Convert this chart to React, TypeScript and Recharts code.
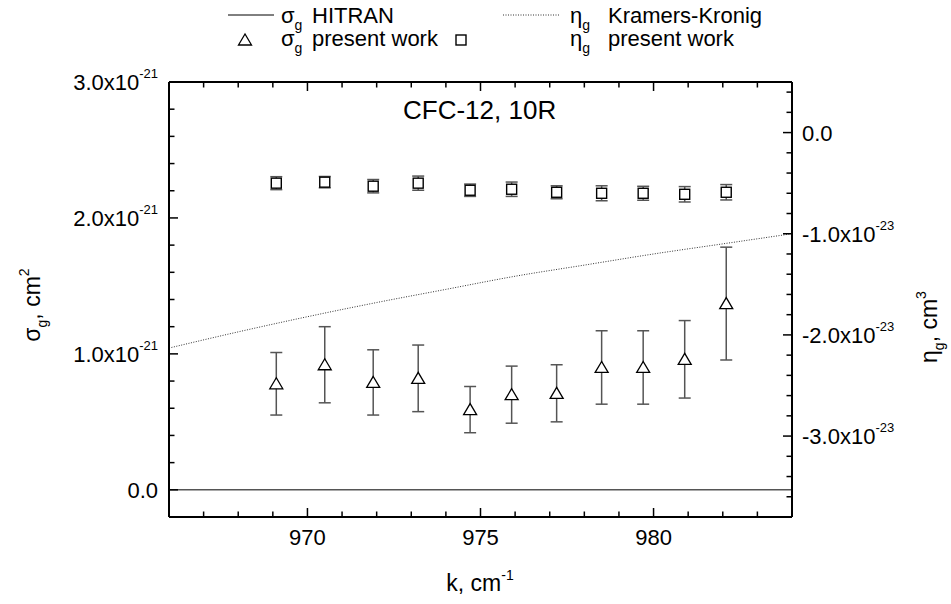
import React from "react";
import { ComposedChart, Line, Scatter, ErrorBar, XAxis, YAxis } from "recharts";

const FONT = "'Liberation Sans', Arial, Helvetica, sans-serif";

// wavenumber of the measured points, cm-1
const kPoints = [969.1, 970.5, 971.9, 973.2, 974.7, 975.9, 977.2, 978.5, 979.7, 980.9, 982.1];
// sigma_g present work, units of 1e-21 cm2
const sigmaValues = [0.78, 0.92, 0.79, 0.82, 0.59, 0.7, 0.71, 0.9, 0.9, 0.96, 1.37];
const sigmaErrors = [0.23, 0.28, 0.24, 0.245, 0.17, 0.21, 0.21, 0.27, 0.27, 0.285, 0.415];
// eta_g present work, units of 1e-23 cm3
const etaValues = [-0.5, -0.49, -0.53, -0.5, -0.57, -0.56, -0.59, -0.6, -0.6, -0.61, -0.59];
const etaErrors = [0.064, 0.056, 0.066, 0.07, 0.061, 0.071, 0.064, 0.074, 0.069, 0.076, 0.076];

// eta_g Kramers-Kronig curve (1e-23 cm3)
const kkK = [966, 968, 970, 972, 974, 976, 978, 980, 982, 984];
const kkEta = [-2.13, -1.97, -1.82, -1.68, -1.55, -1.42, -1.31, -1.2, -1.1, -1.0];

// sigma_g HITRAN (1e-21 cm2)
const hitranK = [966, 984];
const hitranSigma = [0, 0];

const xTicks = [966, 967, 968, 969, 970, 971, 972, 973, 974, 975, 976, 977, 978, 979, 980, 981, 982, 983, 984];
const xLabels = [970, 975, 980];
const leftTicks = [-0.2, 0, 0.2, 0.4, 0.6, 0.8, 1, 1.2, 1.4, 1.6, 1.8, 2, 2.2, 2.4, 2.6, 2.8, 3];
const leftLabels = [0, 1, 2, 3];
const rightTicks = [-3.8, -3.6, -3.4, -3.2, -3, -2.8, -2.6, -2.4, -2.2, -2, -1.8, -1.6, -1.4, -1.2, -1, -0.8, -0.6, -0.4, -0.2, 0, 0.2, 0.4];
const rightLabels = [-3, -2, -1, 0];

const sigmaData = kPoints.map((k, i) => ({ k, y: sigmaValues[i], err: sigmaErrors[i] }));
const etaData = kPoints.map((k, i) => ({ k, y: etaValues[i], err: etaErrors[i] }));
const kkData = kkK.map((k, i) => ({ k, eta: kkEta[i] }));
const hitranData = hitranK.map((k, i) => ({ k, sigma: hitranSigma[i] }));

const BottomTick = (props: any) => {
  const { x, y, payload } = props;
  const major = xLabels.includes(payload.value);
  return (
    <g>
      <line x1={x} x2={x} y1={y} y2={y - (major ? 9 : 5.5)} stroke="#000" strokeWidth={1.5} />
      {major && (
        <text x={x} y={y + 28} textAnchor="middle" fontSize={22} fontFamily={FONT} fill="#000">
          {payload.value}
        </text>
      )}
    </g>
  );
};

const TopTick = (props: any) => {
  const { x, y, payload } = props;
  const major = xLabels.includes(payload.value);
  return <line x1={x} x2={x} y1={y} y2={y + (major ? 9 : 5.5)} stroke="#000" strokeWidth={1.5} />;
};

const LeftTick = (props: any) => {
  const { x, y, payload } = props;
  const v = payload.value;
  const major = leftLabels.includes(v);
  return (
    <g>
      <line x1={x} x2={x + (major ? 9 : 5.5)} y1={y} y2={y} stroke="#000" strokeWidth={1.5} />
      {major && (
        <text x={x - 11} y={y + 8} textAnchor="end" fontSize={22} fontFamily={FONT} fill="#000">
          {v === 0 ? "0.0" : `${v.toFixed(1)}x10`}
          {v !== 0 && (
            <tspan dy={-12} fontSize={13}>
              -21
            </tspan>
          )}
        </text>
      )}
    </g>
  );
};

const RightTick = (props: any) => {
  const { x, y, payload } = props;
  const v = payload.value;
  const major = rightLabels.includes(v);
  return (
    <g>
      <line x1={x} x2={x - (major ? 9 : 5.5)} y1={y} y2={y} stroke="#000" strokeWidth={1.5} />
      {major && (
        <text x={x + 10} y={y + 8} textAnchor="start" fontSize={22} fontFamily={FONT} fill="#000">
          {v === 0 ? "0.0" : `${v.toFixed(1)}x10`}
          {v !== 0 && (
            <tspan dy={-12} fontSize={13}>
              -23
            </tspan>
          )}
        </text>
      )}
    </g>
  );
};

const Triangle = (props: any) => {
  const { cx, cy } = props;
  if (cx == null || cy == null) return null;
  return (
    <polygon
      points={`${cx},${cy - 6} ${cx - 6.5},${cy + 5} ${cx + 6.5},${cy + 5}`}
      fill="#fff"
      stroke="#000"
      strokeWidth={1.3}
    />
  );
};

const Square = (props: any) => {
  const { cx, cy } = props;
  if (cx == null || cy == null) return null;
  return <rect x={cx - 5} y={cy - 5} width={10} height={10} fill="#fff" stroke="#000" strokeWidth={1.4} />;
};

const Overlay = () => (
  <g fontFamily={FONT} fill="#000">
    {/* legend */}
    <line x1={228} x2={274} y1={15} y2={15} stroke="#000" strokeWidth={1} />
    <text x={281} y={23} fontSize={22}>
      σ<tspan dy={7} fontSize={14}>g</tspan>
    </text>
    <text x={312} y={23} fontSize={22}>HITRAN</text>
    <line x1={503} x2={560} y1={15} y2={15} stroke="#333" strokeWidth={1} strokeDasharray="1 1.5" />
    <text x={570} y={23} fontSize={22}>
      η<tspan dy={7} fontSize={14}>g</tspan>
    </text>
    <text x={608} y={23} fontSize={22}>Kramers-Kronig</text>
    <Triangle cx={245} cy={40} />
    <text x={281} y={46} fontSize={22}>
      σ<tspan dy={7} fontSize={14}>g</tspan>
    </text>
    <text x={312} y={46} fontSize={22}>present work</text>
    <Square cx={461} cy={40} />
    <text x={570} y={46} fontSize={22}>
      η<tspan dy={7} fontSize={14}>g</tspan>
    </text>
    <text x={608} y={46} fontSize={22}>present work</text>

    {/* title inside plot */}
    <text x={403} y={119} fontSize={26}>CFC-12, 10R</text>

    {/* axis titles */}
    <text x={480} y={591} fontSize={23} textAnchor="middle">
      k, cm<tspan dy={-11} fontSize={14}>-1</tspan>
    </text>
    <text transform="translate(40, 305) rotate(-90)" fontSize={23} textAnchor="middle">
      σ<tspan dy={7} fontSize={14}>g</tspan>
      <tspan dy={-7}>, cm</tspan>
      <tspan dy={-11} fontSize={14}>2</tspan>
    </text>
    <text transform="translate(937, 327) rotate(-90)" fontSize={23} textAnchor="middle">
      η<tspan dy={7} fontSize={14}>g</tspan>
      <tspan dy={-7}>, cm</tspan>
      <tspan dy={-11} fontSize={14}>3</tspan>
    </text>
  </g>
);

export default function App() {
  return (
    <div style={{ position: "absolute", left: 0, top: 0, width: 951, height: 604, background: "#fff" }}>
      <ComposedChart width={951} height={604} margin={{ top: 80, right: 0, bottom: 0, left: 0 }}>
        <XAxis
          xAxisId="b"
          dataKey="k"
          type="number"
          domain={[966, 984]}
          ticks={xTicks}
          interval={0}
          allowDataOverflow
          height={87}
          tickSize={0}
          tickMargin={0}
          tick={<BottomTick />}
          tickLine={false}
          axisLine={{ stroke: "#000", strokeWidth: 2 }}
        />
        <XAxis
          xAxisId="t"
          orientation="top"
          dataKey="k"
          type="number"
          domain={[966, 984]}
          ticks={xTicks}
          interval={0}
          allowDataOverflow
          height={2}
          tickSize={0}
          tickMargin={0}
          tick={<TopTick />}
          tickLine={false}
          axisLine={{ stroke: "#000", strokeWidth: 2 }}
        />
        <YAxis
          yAxisId="L"
          type="number"
          domain={[-0.2, 3]}
          ticks={leftTicks}
          interval={0}
          allowDataOverflow
          width={169}
          tickSize={0}
          tickMargin={0}
          tick={<LeftTick />}
          tickLine={false}
          axisLine={{ stroke: "#000", strokeWidth: 2 }}
        />
        <YAxis
          yAxisId="R"
          orientation="right"
          type="number"
          domain={[-3.8, 0.5]}
          ticks={rightTicks}
          interval={0}
          allowDataOverflow
          width={159}
          tickSize={0}
          tickMargin={0}
          tick={<RightTick />}
          tickLine={false}
          axisLine={{ stroke: "#000", strokeWidth: 2 }}
        />
        <Line
          xAxisId="b"
          yAxisId="L"
          data={hitranData}
          dataKey="sigma"
          stroke="#555"
          strokeWidth={1.5}
          dot={false}
          isAnimationActive={false}
        />
        <Line
          xAxisId="b"
          yAxisId="R"
          data={kkData}
          dataKey="eta"
          type="monotone"
          stroke="#333"
          strokeWidth={1}
          strokeDasharray="1 1.5"
          dot={false}
          isAnimationActive={false}
        />
        <Scatter
          xAxisId="b"
          yAxisId="L"
          data={sigmaData}
          dataKey="y"
          shape={<Triangle />}
          isAnimationActive={false}
        >
          <ErrorBar dataKey="err" direction="y" width={6} stroke="#555" strokeWidth={1.5} isAnimationActive={false} />
        </Scatter>
        <Scatter
          xAxisId="b"
          yAxisId="R"
          data={etaData}
          dataKey="y"
          shape={<Square />}
          isAnimationActive={false}
        >
          <ErrorBar dataKey="err" direction="y" width={6} stroke="#555" strokeWidth={1.5} isAnimationActive={false} />
        </Scatter>
        <Overlay />
      </ComposedChart>
    </div>
  );
}
